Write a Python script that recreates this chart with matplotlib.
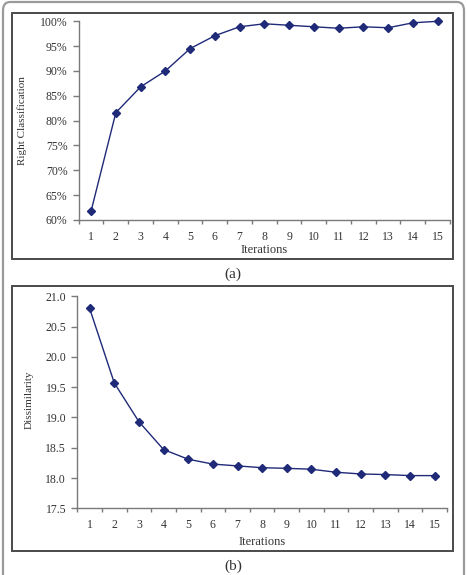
import matplotlib
matplotlib.use("Agg")
import matplotlib.pyplot as plt
from matplotlib.patches import FancyBboxPatch, Rectangle
from matplotlib.ticker import FixedLocator, NullFormatter, FuncFormatter

# data
iterations = list(range(1, 16))
right_class = [61.8, 81.6, 86.8, 90.0, 94.5, 97.1, 98.9, 99.5, 99.2, 98.9,
               98.6, 98.9, 98.7, 99.7, 100.0]
dissimilarity = [20.80, 19.57, 18.93, 18.47, 18.31, 18.23, 18.20, 18.17, 18.16,
                 18.145, 18.095, 18.067, 18.057, 18.04, 18.04]
yticks_a = [60, 65, 70, 75, 80, 85, 90, 95, 100]
yticks_b = [17.5, 18.0, 18.5, 19.0, 19.5, 20.0, 20.5, 21.0]

plt.rcParams['font.family'] = ['Liberation Serif', 'DejaVu Serif']

W, H = 467, 575
fig = plt.figure(figsize=(W / 100, H / 100), dpi=100)

line_col = '#1f2a78'
axis_col = '#7a7a7a'

# outer rounded frame
fig.patches.append(FancyBboxPatch((3 / W, -20 / H), 461 / W, (H + 18) / H,
                                  boxstyle='round,pad=0,rounding_size=0.015',
                                  transform=fig.transFigure, fill=False,
                                  edgecolor='#9a9a9a', linewidth=1.6))
# panel boxes
for (y0, y1) in [(12.5, 259), (286, 551)]:
    fig.patches.append(Rectangle((12 / W, 1 - y1 / H), 441 / W, (y1 - y0) / H,
                                 transform=fig.transFigure, fill=False,
                                 edgecolor='#4a4a4a', linewidth=1.4))


def style_axes(ax):
    for s in ['top', 'right']:
        ax.spines[s].set_visible(False)
    for s in ['left', 'bottom']:
        ax.spines[s].set_color(axis_col)
        ax.spines[s].set_linewidth(1.0)
    ax.set_xlim(0.5, 15.5)
    ax.xaxis.set_major_locator(FixedLocator([i + 0.5 for i in range(0, 16)]))
    ax.xaxis.set_major_formatter(NullFormatter())
    ax.xaxis.set_minor_locator(FixedLocator(iterations))
    ax.set_xticklabels([str(i) for i in iterations], minor=True)
    ax.tick_params(axis='x', which='major', length=3, width=1, color=axis_col)
    ax.tick_params(axis='x', which='minor', length=0, pad=8, labelsize=8.5,
                   labelcolor='#333333')
    ax.tick_params(axis='y', length=4, width=1, color=axis_col, pad=4,
                   labelsize=8.5, labelcolor='#333333')


# panel (a)
ax1 = fig.add_axes([78.7 / W, 1 - 220 / H, 371.3 / W, 198.7 / H])
ax1.plot(iterations, right_class, color=line_col, linewidth=1.0, marker='D',
         markersize=4, markerfacecolor=line_col, markeredgecolor=line_col,
         clip_on=False)
ax1.set_ylim(60, 100)
ax1.set_yticks(yticks_a)
ax1.yaxis.set_major_formatter(FuncFormatter(lambda v, p: '%d%%' % v))
style_axes(ax1)
ax1.set_xlabel('Iterations', fontsize=9, color='#333333', va='center')
ax1.xaxis.set_label_coords(0.5, -0.151)
ax1.set_ylabel('Right Classification', fontsize=8, color='#333333', va='center')
ax1.yaxis.set_label_coords(-0.153, 0.5)

# panel (b)
ax2 = fig.add_axes([77.3 / W, 1 - 508.3 / H, 369.7 / W, 212 / H])
ax2.plot(iterations, dissimilarity, color=line_col, linewidth=1.0, marker='D',
         markersize=4, markerfacecolor=line_col, markeredgecolor=line_col,
         clip_on=False)
ax2.set_ylim(17.5, 21.0)
ax2.set_yticks(yticks_b)
ax2.yaxis.set_major_formatter(FuncFormatter(lambda v, p: '%.1f' % v))
style_axes(ax2)
ax2.set_xlabel('Iterations', fontsize=9, color='#333333', va='center')
ax2.xaxis.set_label_coords(0.5, -0.1575)
ax2.set_ylabel('Dissimilarity', fontsize=8, color='#333333', va='center')
ax2.yaxis.set_label_coords(-0.131, 0.51)

fig.text(233 / W, 1 - 274 / H, '(a)', ha='center', va='center', fontsize=11,
         color='#333333')
fig.text(233 / W, 1 - 566 / H, '(b)', ha='center', va='center', fontsize=11,
         color='#333333')

fig.savefig('out.png', dpi=100)
